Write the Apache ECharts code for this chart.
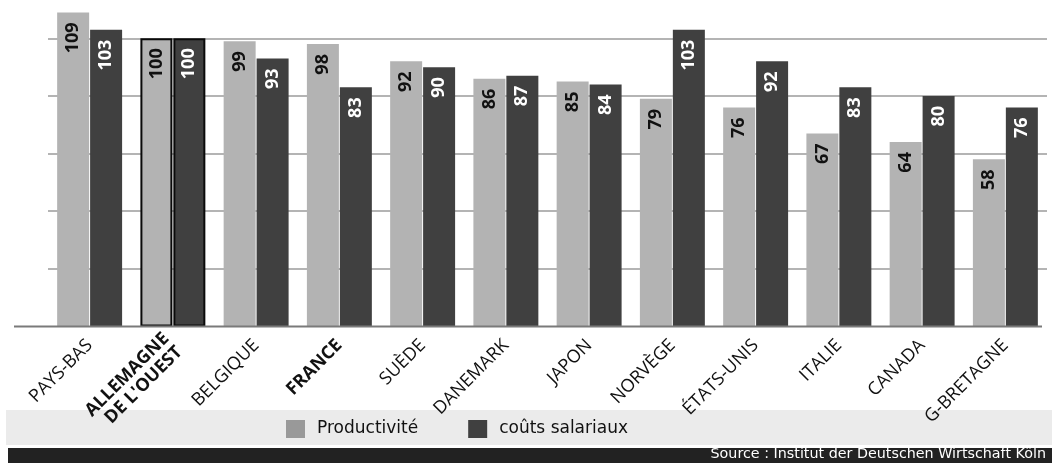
<!DOCTYPE html>
<html>
<head>
<meta charset="utf-8">
<style>
  html, body { margin: 0; padding: 0; background: #ffffff; }
  #chart { width: 1052px; height: 463px; }
</style>
<script src="https://cdn.jsdelivr.net/npm/echarts@6/dist/echarts.min.js"></script>
</head>
<body>
<div id="chart"></div>
<script>
// Countries, in the order shown along the axis
const categories = [
  'PAYS-BAS', "ALLEMAGNE\nDE L'OUEST", 'BELGIQUE', 'FRANCE', 'SUÈDE', 'DANEMARK',
  'JAPON', 'NORVÈGE', 'ÉTATS-UNIS', 'ITALIE', 'CANADA', 'G-BRETAGNE'
];
// Index values, West Germany = 100
const productivite = [109, 100, 99, 98, 92, 86, 85, 79, 76, 67, 64, 58];
const coutsSalariaux = [103, 100, 93, 83, 90, 87, 84, 103, 92, 83, 80, 76];
// Countries written in bold on the axis
const boldCategories = ["ALLEMAGNE\nDE L'OUEST", 'FRANCE'];
// The reference country gets a black outline
const referenceCountry = "ALLEMAGNE\nDE L'OUEST";

const seriesNames = ['Productivité', 'coûts salariaux'];
const sourceText = 'Source : Institut der Deutschen Wirtschaft Köln';

const LIGHT = '#b3b3b3';
const DARK = '#404040';

function withOutline(values) {
  return values.map((v, i) => categories[i] === referenceCountry
    ? { value: v, itemStyle: { borderColor: '#0a0a0a', borderWidth: 2 } }
    : v);
}

const valueLabel = (color) => ({
  show: true,
  position: 'insideTop',
  rotate: 90,
  align: 'right',
  verticalAlign: 'middle',
  distance: 10,
  color: color,
  fontFamily: 'Open Sans',
  fontWeight: 'bold',
  fontSize: 18
});

const chart = echarts.init(document.getElementById('chart'), null, { renderer: 'canvas' });

chart.setOption({
  animation: false,
  backgroundColor: '#ffffff',
  grid: { left: 48, right: 5, top: 9.5, bottom: 136.5, containLabel: false },
  xAxis: {
    type: 'category',
    data: categories,
    axisLine: { show: false },
    axisTick: { show: false },
    axisLabel: {
      interval: 0,
      rotate: 45,
      margin: 16,
      fontFamily: 'Open Sans',
      fontSize: 18,
      color: '#111111',
      lineHeight: 19,
      formatter: (v) => boldCategories.includes(v)
        ? v.split('\n').map(s => '{b|' + s + '}').join('\n')
        : v,
      rich: {
        b: { fontFamily: 'Open Sans', fontWeight: 'bold', fontSize: 18, color: '#111111', lineHeight: 19 }
      }
    }
  },
  yAxis: {
    type: 'value',
    min: 0,
    max: 110,
    interval: 20,
    axisLabel: { show: false },
    axisLine: { show: false },
    axisTick: { show: false },
    splitLine: {
      show: true,
      showMinLine: false,
      showMaxLine: false,
      lineStyle: { color: '#b4b4b4', width: 2 }
    }
  },
  legend: {
    left: 286,
    top: 420,
    padding: 0,
    icon: 'rect',
    itemWidth: 19,
    itemHeight: 18,
    itemGap: 50,
    textStyle: { fontFamily: 'DejaVu Sans', fontSize: 17, color: '#111111', padding: [0, 0, 0, 7] },
    data: [
      { name: seriesNames[0], itemStyle: { color: '#999999' } },
      { name: seriesNames[1], itemStyle: { color: DARK } }
    ]
  },
  graphic: [
    { type: 'rect', z: -1, shape: { x: 6, y: 410, width: 1046, height: 35 }, style: { fill: '#ebebeb' } },
    { type: 'rect', z: -1, shape: { x: 8, y: 448, width: 1044, height: 15 }, style: { fill: '#222222' } },
    { type: 'text', right: 6, top: 447, style: { text: sourceText, fill: '#ffffff', font: '14.3px "DejaVu Sans"' } },
    { type: 'line', z: 10, shape: { x1: 14, y1: 326.5, x2: 1042, y2: 326.5 }, style: { stroke: '#7a7a7a', lineWidth: 2 } }
  ],
  series: [
    {
      name: seriesNames[0],
      type: 'bar',
      barWidth: 32,
      barGap: '3%',
      itemStyle: { color: LIGHT },
      label: valueLabel('#111111'),
      data: withOutline(productivite)
    },
    {
      name: seriesNames[1],
      type: 'bar',
      barWidth: 32,
      itemStyle: { color: DARK },
      label: valueLabel('#ffffff'),
      data: withOutline(coutsSalariaux)
    }
  ]
});
</script>
</body>
</html>
